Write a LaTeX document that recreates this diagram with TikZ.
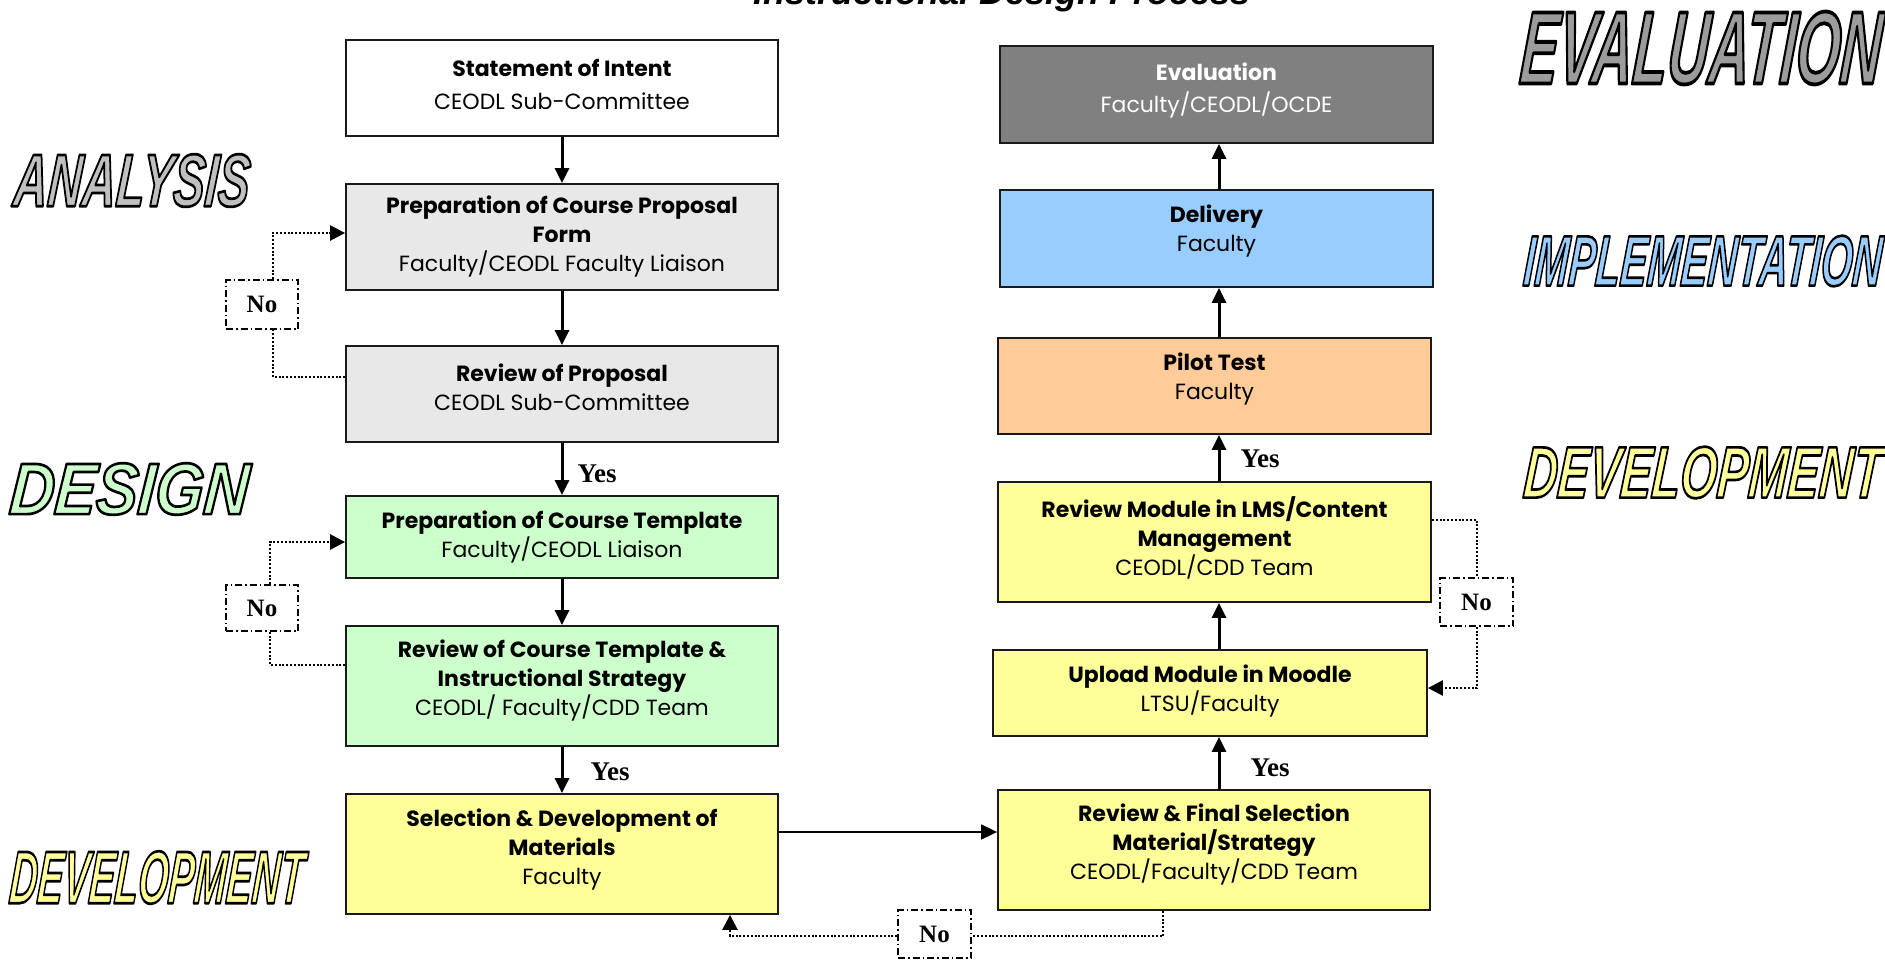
\documentclass[tikz,border=0pt]{standalone}
\usepackage{fontspec}
\setmainfont{Poppins}
\newfontfamily\yesfont{Liberation Serif}
\newfontfamily\artfont{Liberation Sans}
\usepackage{graphicx}
\usetikzlibrary{arrows.meta}
\definecolor{greyfill}{HTML}{E8E8E8}
\definecolor{greenfill}{HTML}{CCFFCC}
\definecolor{yellowfill}{HTML}{FFFF99}
\definecolor{orangefill}{HTML}{FFCC99}
\definecolor{bluefill}{HTML}{99CCFF}
\definecolor{evalfill}{HTML}{808080}
\definecolor{artgrey}{HTML}{C0C0C0}
\definecolor{artevalgrey}{HTML}{9C9C9C}
\definecolor{boxline}{HTML}{1A1A1A}
% outlined "word art" text: filled glyphs with a black stroke
\newcommand\wordart[4]{\resizebox{#2}{#3}{\textcolor{#1}{\special{pdf:literal direct q 2 Tr 2.2 w 1 j 0 0 0 RG}\artfont\bfseries\itshape\fontsize{60}{60}\selectfont #4\special{pdf:literal direct Q}}}}
\tikzset{
  box/.style={draw=boxline, line width=1.8pt, inner sep=0pt},
  boxtxt/.style={align=center, inner sep=0pt, font=\fontsize{22}{29}\selectfont},
  arr/.style={line width=3pt, -{Triangle[length=15pt,width=14pt]}},
  thinarr/.style={line width=1.5pt, -{Triangle[length=16pt,width=15pt]}},
  fb/.style={line width=2.6pt, dash pattern=on 2pt off 1.8pt},
  fbarr/.style={fb, -{Triangle[length=15pt,width=15pt]}},
  nobox/.style={draw=black, line width=1.5pt, dash pattern=on 7pt off 3pt on 1.5pt off 3pt,
    fill=white, inner sep=0pt, font=\yesfont\bfseries\fontsize{25}{25}\selectfont},
  yeslbl/.style={inner sep=0pt, font=\yesfont\bfseries\fontsize{27}{27}\selectfont},
  art/.style={inner sep=0pt, anchor=west, xslant=0.08, transform shape}
}
\begin{document}
\begin{tikzpicture}[x=1pt,y=-1pt]
\useasboundingbox[fill=white] (0,0) rectangle (1885,959);

% title (cut off at top)
\node[anchor=base, inner sep=0pt, font=\artfont\bfseries\itshape\fontsize{36}{36}\selectfont] (title) at (1002,4) {Instructional Design Process};

% phase labels
\node[art] (analysis) at (14,180.5) {\wordart{artgrey}{236pt}{52pt}{ANALYSIS}};
\node[art] (design) at (10,489) {\wordart{greenfill}{239pt}{51pt}{DESIGN}};
\node[art] (devl) at (10,877.5) {\wordart{yellowfill}{294pt}{52pt}{DEVELOPMENT}};
\node[art] (eval) at (1521,48) {\wordart{artevalgrey}{361pt}{72pt}{EVALUATION}};
\node[art] (impl) at (1524,261) {\wordart{bluefill}{358pt}{50pt}{IMPLEMENTATION}};
\node[art] (devr) at (1524,472.5) {\wordart{yellowfill}{358pt}{51pt}{DEVELOPMENT}};

% left column boxes
\node[box, fill=white, minimum width=432pt, minimum height=96pt] (stmt) at (562,88) {};
\node[box, fill=greyfill, minimum width=432pt, minimum height=106pt] (prop) at (562,237) {};
\node[box, fill=greyfill, minimum width=432pt, minimum height=96pt] (revp) at (562,394) {};
\node[box, fill=greenfill, minimum width=432pt, minimum height=82pt] (tmpl) at (562,537) {};
\node[box, fill=greenfill, minimum width=432pt, minimum height=120pt] (revt) at (562,686) {};
\node[box, fill=yellowfill, minimum width=432pt, minimum height=120pt] (sel) at (562,854) {};

% right column boxes
\node[box, fill=yellowfill, minimum width=432pt, minimum height=120pt] (rfs) at (1214,850) {};
\node[box, fill=yellowfill, minimum width=434pt, minimum height=86pt] (upl) at (1210,693) {};
\node[box, fill=yellowfill, minimum width=433pt, minimum height=120pt] (revm) at (1214.5,542) {};
\node[box, fill=orangefill, minimum width=433pt, minimum height=96pt] (pilot) at (1214.5,386) {};
\node[box, fill=bluefill, minimum width=433pt, minimum height=97pt] (deliv) at (1216.5,238.5) {};
\node[box, fill=evalfill, minimum width=433pt, minimum height=97pt] (evalbox) at (1216.5,94.5) {};

% box texts
\node[boxtxt] (stmt-t) at ([yshift=4pt]stmt.center) {\textbf{Statement of Intent}\\[4pt]CEODL Sub-Committee};
\node[boxtxt] (prop-t) at (prop.center) {\textbf{Preparation of Course Proposal}\\\textbf{Form}\\Faculty/CEODL Faculty Liaison};
\node[boxtxt] (revp-t) at ([yshift=7pt]revp.center) {\textbf{Review of Proposal}\\CEODL Sub-Committee};
\node[boxtxt] (tmpl-t) at (tmpl.center) {\textbf{Preparation of Course Template}\\Faculty/CEODL Liaison};
\node[boxtxt] (revt-t) at ([yshift=5pt]revt.center) {\textbf{Review of Course Template \&}\\\textbf{Instructional Strategy}\\CEODL/ Faculty/CDD Team};
\node[boxtxt] (sel-t) at ([yshift=4pt]sel.center) {\textbf{Selection \& Development of}\\\textbf{Materials}\\Faculty};
\node[boxtxt] (rfs-t) at ([yshift=5pt]rfs.center) {\textbf{Review \& Final Selection}\\\textbf{Material/Strategy}\\CEODL/Faculty/CDD Team};
\node[boxtxt] (upl-t) at ([yshift=2pt]upl.center) {\textbf{Upload Module in Moodle}\\LTSU/Faculty};
\node[boxtxt] (revm-t) at ([yshift=4pt]revm.center) {\textbf{Review Module in LMS/Content}\\\textbf{Management}\\CEODL/CDD Team};
\node[boxtxt] (pilot-t) at ([yshift=7pt]pilot.center) {\textbf{Pilot Test}\\Faculty};
\node[boxtxt] (deliv-t) at ([yshift=7pt]deliv.center) {\textbf{Delivery}\\Faculty};
\node[boxtxt, text=white] (eval-t) at ([yshift=4pt]evalbox.center) {\textbf{Evaluation}\\[3pt]Faculty/CEODL/OCDE};

% main arrows
\draw[arr] (stmt.south) -- (prop.north);
\draw[arr] (prop.south) -- (revp.north);
\draw[arr] (revp.south) -- (tmpl.north);
\draw[arr] (tmpl.south) -- (revt.north);
\draw[arr] (revt.south) -- (sel.north);
\coordinate (hy) at (0,832);
\draw[thinarr] (sel.east |- hy) -- (rfs.west |- hy);
\coordinate (rc) at (1219,0);
\draw[arr] (rfs.north -| rc) -- (upl.south -| rc);
\draw[arr] (upl.north -| rc) -- (revm.south -| rc);
\draw[arr] (revm.north -| rc) -- (pilot.south -| rc);
\draw[arr] (pilot.north -| rc) -- (deliv.south -| rc);
\draw[arr] (deliv.north -| rc) -- (evalbox.south -| rc);

% Yes labels
\node[yeslbl] (yes1) at (597,474) {Yes};
\node[yeslbl] (yes2) at (610,772) {Yes};
\node[yeslbl] (yes3) at (1260,459) {Yes};
\node[yeslbl] (yes4) at (1270,768) {Yes};

% No boxes
\node[nobox, minimum width=72pt, minimum height=49pt] (no1) at (262,304.5) {No};
\node[nobox, minimum width=72pt, minimum height=46pt] (no2) at (262,608) {No};
\node[nobox, minimum width=73pt, minimum height=48pt] (no3) at (1476.5,602) {No};
\node[nobox, minimum width=73pt, minimum height=48pt] (no4) at (934.5,934) {No};

% feedback loops
\coordinate (f1a) at (273,377);
\coordinate (f1b) at (273,233);
\draw[fb] (revp.west |- f1a) -- (f1a) -- (no1.south -| f1a);
\draw[fbarr] (no1.north -| f1b) -- (f1b) -- (prop.west |- f1b);

\coordinate (f2a) at (270,665);
\coordinate (f2b) at (270,542);
\draw[fb] (revt.west |- f2a) -- (f2a) -- (no2.south -| f2a);
\draw[fbarr] (no2.north -| f2b) -- (f2b) -- (tmpl.west |- f2b);

\coordinate (f3a) at (1477,520);
\coordinate (f3b) at (1477,688);
\draw[fb] (revm.east |- f3a) -- (f3a) -- (no3.north -| f3a);
\draw[fbarr] (no3.south -| f3b) -- (f3b) -- (upl.east |- f3b);

\coordinate (f4a) at (1163,936);
\coordinate (f4b) at (730,936);
\draw[fb] (rfs.south -| f4a) -- (f4a) -- (no4.east |- f4a);
\draw[fbarr] (no4.west |- f4b) -- (f4b) -- (sel.south -| f4b);
\end{tikzpicture}
\end{document}
